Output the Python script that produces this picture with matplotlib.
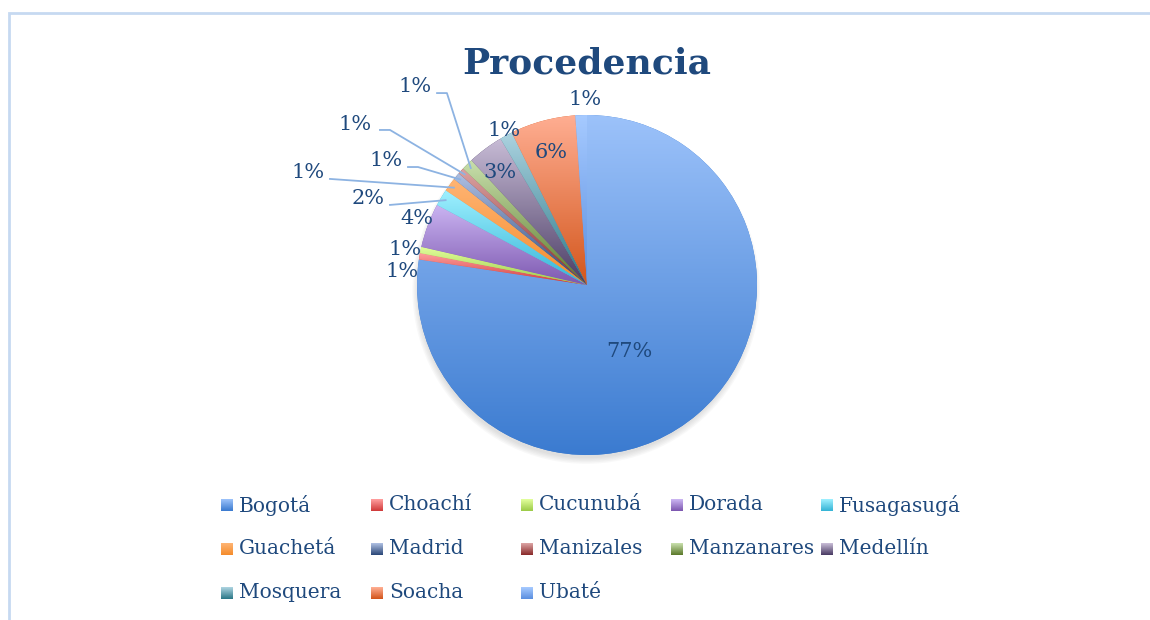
import numpy as np
import matplotlib
matplotlib.use("Agg")
import matplotlib.pyplot as plt
from matplotlib.colors import to_rgb
from matplotlib.patches import Circle
from matplotlib.lines import Line2D

# data (share of people by place of origin, %)
places = ["Bogotá", "Choachí", "Cucunubá", "Dorada", "Fusagasugá",
          "Guachetá", "Madrid", "Manizales", "Manzanares", "Medellín",
          "Mosquera", "Soacha", "Ubaté"]
shares = [77.4, 0.6, 0.6, 4.2, 1.6, 1.3, 0.7, 0.6, 1.1, 3.4, 1.2, 6.2, 1.1]

# light (top) / dark (bottom) gradient colours for each slice
light = ["#9cc2fa", "#ff9e9e", "#e2ff9c", "#cbb5f2", "#9ef0ff", "#ffb473",
         "#aebfe2", "#dba3a3", "#c8dfac", "#c8bcd6", "#acd3e0", "#ffae92", "#a6caff"]
dark = ["#3b7bd0", "#d03a3a", "#9ccb48", "#7d58b0", "#35b4d6", "#f48c2c",
        "#2c4878", "#8a2b2b", "#5c7a2c", "#4a3c64", "#2c7888", "#d3561c", "#5b8fe0"]

txt_col = "#1f497d"
line_col = "#8db3e2"

# label positions (pie radius = 1, centre = 0,0)
lab_pos = [(0.25, -0.39), (-1.09, 0.08), (-1.07, 0.21), (-1.0, 0.39),
           (-1.29, 0.51), (-1.64, 0.66), (-1.18, 0.735), (-1.365, 0.947),
           (-1.01, 1.165), (-0.51, 0.66), (-0.49, 0.91), (-0.21, 0.78), (-0.01, 1.09)]
# leader lines: slice index -> points from the label towards the slice
leaders = {4: [(-1.159, 0.471)],
           5: [(-1.512, 0.624)],
           6: [(-1.053, 0.694), (-0.994, 0.694)],
           7: [(-1.218, 0.912), (-1.159, 0.912)],
           8: [(-0.882, 1.129), (-0.824, 1.129)]}

W, H = 1150, 620
cx, cy, R = 587, 285, 170
fig = plt.figure(figsize=(W / 100, H / 100), dpi=100)
ax = fig.add_axes([0, 0, 1, 1])
ax.set_axis_off()
xlim = (-cx / R, (W - cx) / R)
ylim = (-(H - cy) / R, cy / R)

# soft shadow under the pie
for k in range(5):
    ax.add_patch(Circle((-0.005, -0.03), 0.99 + 0.008 * k, color="#808080",
                        alpha=0.05, lw=0, zorder=0))

wedges, _ = ax.pie(shares, startangle=90, counterclock=False, radius=1,
                   colors=dark, wedgeprops=dict(lw=0))

for w, c1, c2 in zip(wedges, light, dark):
    ext = w.get_path().get_extents()
    t = np.linspace(0, 1, 200)[:, None, None]
    grad = (1 - t) * np.array(to_rgb(c1)) + t * np.array(to_rgb(c2))
    im = ax.imshow(grad, extent=[ext.x0, ext.x1, ext.y0, ext.y1],
                   origin="upper", aspect="auto", interpolation="bilinear", zorder=2)
    im.set_clip_path(w)

total = sum(shares)
for i, (v, (lx, ly)) in enumerate(zip(shares, lab_pos)):
    ax.text(lx, ly, f"{round(v / total * 100):d}%", ha="center", va="center",
            fontsize=15, color=txt_col, family="DejaVu Serif", zorder=5)
    if i in leaders:
        w = wedges[i]
        mid = np.deg2rad((w.theta1 + w.theta2) / 2)
        pts = leaders[i] + [(0.97 * np.cos(mid), 0.97 * np.sin(mid))]
        xs, ys = zip(*pts)
        ax.plot(xs, ys, color=line_col, lw=1.3, zorder=4)

ax.set_xlim(xlim)
ax.set_ylim(ylim)

# title
fig.text(cx / W, 1 - 73 / H, "Procedencia", ha="center", va="baseline",
         fontsize=26, fontweight="bold", color=txt_col, family="DejaVu Serif")

# legend, 5 per row
for i, (name, c1, c2) in enumerate(zip(places, light, dark)):
    col, row = i % 5, i // 5
    x0 = 227 + 150 * col
    y0 = 505 + 44 * row
    ax_sq = fig.add_axes([(x0 - 6) / W, 1 - (y0 + 6) / H, 12 / W, 12 / H])
    t = np.linspace(0, 1, 20)[:, None, None]
    ax_sq.imshow((1 - t) * np.array(to_rgb(c1)) + t * np.array(to_rgb(c2)),
                 aspect="auto")
    ax_sq.set_axis_off()
    fig.text((x0 + 12) / W, 1 - y0 / H, name, ha="left", va="center",
             fontsize=14.5, color=txt_col, family="DejaVu Serif")

# chart frame (only top and left edges are inside the picture)
top = 1 - 12.5 / H
fig.add_artist(Line2D([8.5 / W, 8.5 / W, 1.1], [-0.1, top, top],
                      transform=fig.transFigure, color="#c6d9f1", lw=2,
                      solid_capstyle="butt", solid_joinstyle="miter"))

fig.savefig("out.png", dpi=100)
